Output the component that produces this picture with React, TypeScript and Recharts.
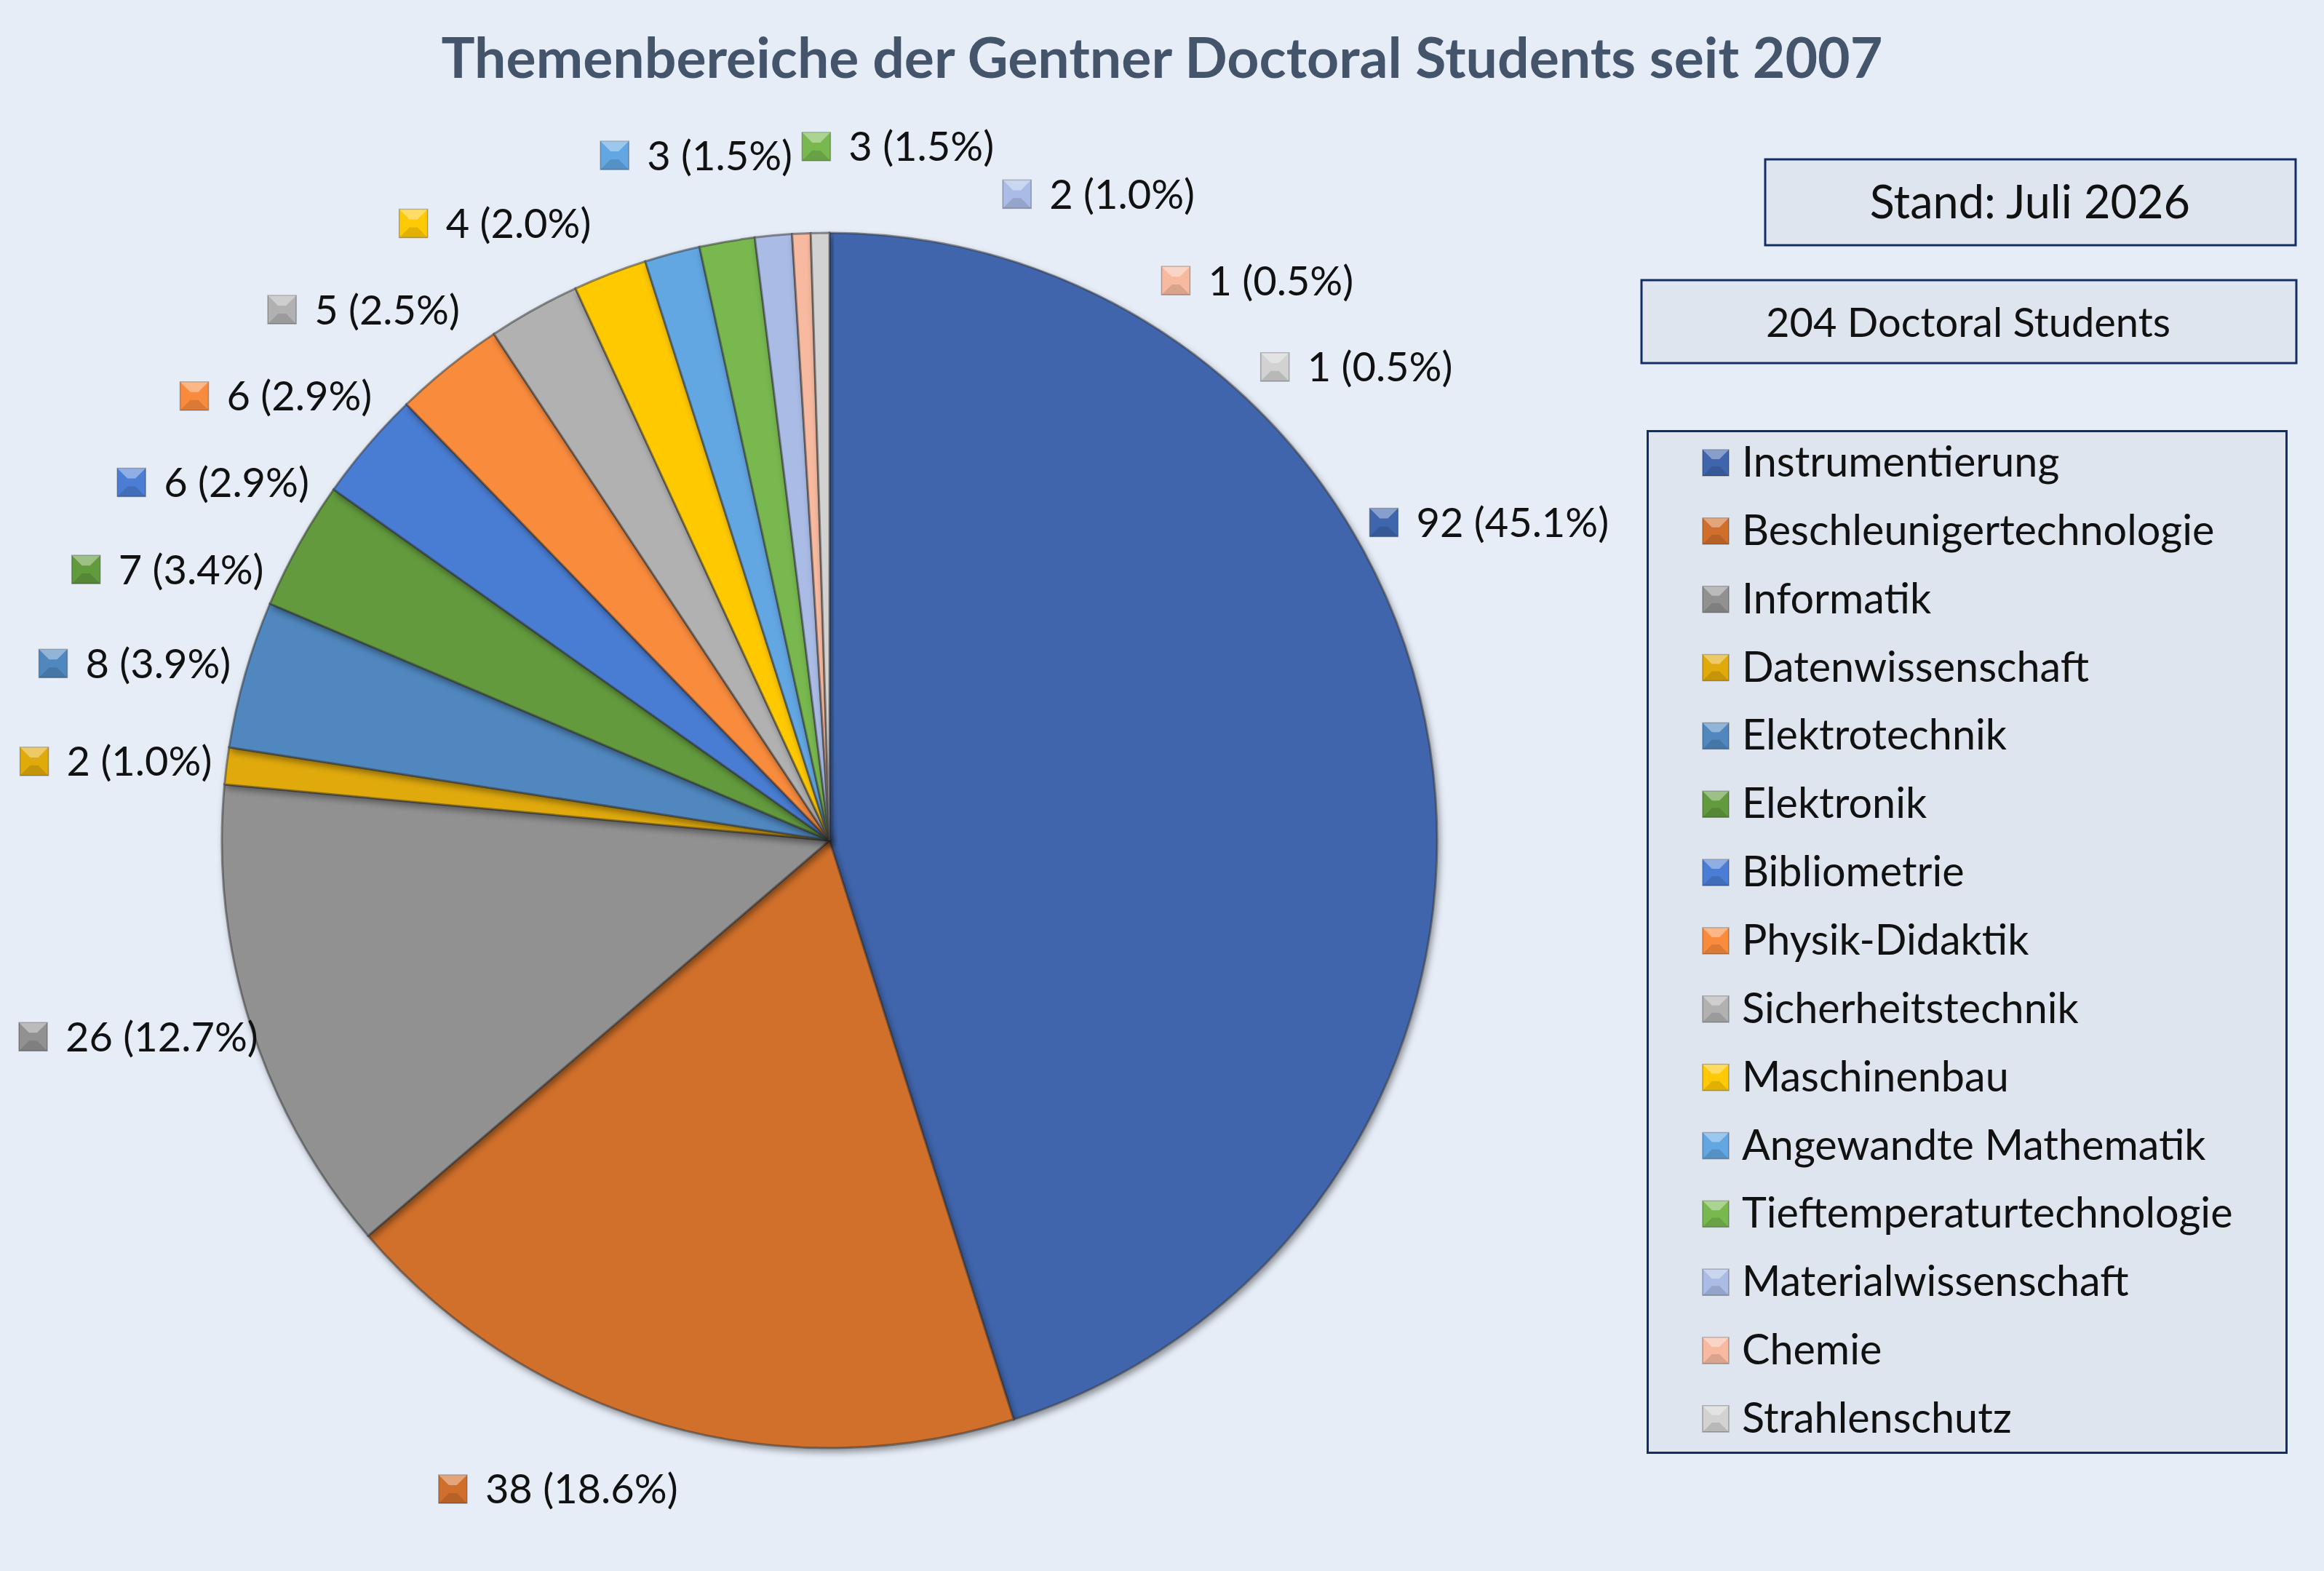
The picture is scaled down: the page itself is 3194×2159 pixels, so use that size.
import { PieChart, Pie, Cell, Legend } from 'recharts';

// Themenbereiche, Anzahl Doctoral Students, Farben (Reihenfolge = Excel-Reihenfolge)
const categories = [
    'Instrumentierung',
    'Beschleunigertechnologie',
    'Informatik',
    'Datenwissenschaft',
    'Elektrotechnik',
    'Elektronik',
    'Bibliometrie',
    'Physik-Didaktik',
    'Sicherheitstechnik',
    'Maschinenbau',
    'Angewandte Mathematik',
    'Tieftemperaturtechnologie',
    'Materialwissenschaft',
    'Chemie',
    'Strahlenschutz',
];
const students = [92, 38, 26, 2, 8, 7, 6, 6, 5, 4, 3, 3, 2, 1, 1];
const sliceColors = [
    '#3F65AC', '#D06F2C', '#919191', '#E0AA0B', '#5087BE',
    '#629A3E', '#4A7DD3', '#F98B3D', '#B1B1B1', '#FFC905',
    '#62A6E2', '#78B84F', '#AABCE6', '#F7BAA0', '#D2D2D2',
];

const chartTitle = 'Themenbereiche der Gentner Doctoral Students seit 2007';
const standText = 'Stand: Juli 2026';

// layout
const W = 3194;
const H = 2159;
const CX = 1140;
const CY = 1155;
const R = 835;
const FONT = 'Lato, "Noto Sans", sans-serif';
const LABEL_FS = 56;
const LEGEND_FS = 57.5;
const MARK = 39;
const MARK_GAP = 25;
const LABEL_H = 56;
const PAD_X = 12;
const PAD_Y = 62;
const BOUNDS = { left: 26, right: 2212, top: 140, bottom: 2075 };
const BG = '#E6EDF7';
const BOX_FILL = '#DEE5EE';
const BOX_STROKE = '#132E64';
const LEG = { x: 2263, y: 591, w: 881, h: 1407, first: 45, step: 93.85 };

const data = categories.map((name, i) => ({ name, value: students[i] }));
const total = students.reduce((s, v) => s + v, 0);
const pct = (v: number) => `${v} (${((v / total) * 100).toFixed(1)}%)`;

if (typeof document !== 'undefined') document.body.style.margin = '0';

let ctx: CanvasRenderingContext2D | null = null;
function textWidth(text: string, font: string) {
    if (!ctx) ctx = document.createElement('canvas').getContext('2d');
    if (!ctx) return text.length * LABEL_FS * 0.5;
    ctx.font = font;
    return ctx.measureText(text).width;
}

type Box = { x0: number; x1: number; y0: number; y1: number };

// Excel-like "best fit": outside the slice, slide along the rim when out of bounds, push apart when overlapping
function placeLabels() {
    const n = students.length;
    const w = students.map(v => MARK + MARK_GAP + textWidth(pct(v), `${LABEL_FS}px Lato`));
    const theta: number[] = [];
    let acc = 0;
    for (const v of students) {
        theta.push(((acc + v / 2) / total) * 360);
        acc += v;
    }
    const rad = (d: number) => (d * Math.PI) / 180;
    const box = (i: number, t: number): Box => {
        const ux = Math.sin(rad(t));
        const uy = -Math.cos(rad(t));
        const gap = 20 + 75 * uy * uy; // labels sit further out above/below the pie
        let x = CX + (R + gap) * ux + (ux * w[i]) / 2;
        const y = CY + (R + gap) * uy + (uy * LABEL_H) / 2;
        x = Math.max(x, BOUNDS.left + w[i] / 2);
        return { x0: x - w[i] / 2, x1: x + w[i] / 2, y0: y - LABEL_H / 2, y1: y + LABEL_H / 2 };
    };
    const outside = (b: Box) =>
        Math.max(0, b.x1 - BOUNDS.right) + Math.max(0, b.y1 - BOUNDS.bottom) + Math.max(0, BOUNDS.top - b.y0);
    const hit = (a: Box, b: Box) =>
        a.x0 < b.x1 + PAD_X && b.x0 < a.x1 + PAD_X && a.y0 < b.y1 + PAD_Y && b.y0 < a.y1 + PAD_Y;
    const back = 0.08;
    const fwd = 0.1;
    for (let it = 0; it < 8000; it++) {
        let moved = false;
        for (let i = 0; i < n; i++) {
            const j = (i + 1) % n;
            if (hit(box(i, theta[i]), box(j, theta[j]))) {
                theta[i] -= back;
                theta[j] += fwd;
                moved = true;
            }
        }
        for (let i = 0; i < n; i++) {
            if (outside(box(i, theta[i])) > 0) {
                const dir = outside(box(i, theta[i] - 0.1)) < outside(box(i, theta[i] + 0.1)) ? -1 : 1;
                theta[i] += dir * 0.2;
                moved = true;
            }
        }
        if (!moved) break;
    }
    return students.map((_, i) => {
        const b = box(i, theta[i]);
        return { dx: b.x0 - CX, dy: (b.y0 + b.y1) / 2 - CY };
    });
}

const labelPos = placeLabels();

function Bevel({ x, y, s, color }: { x: number; y: number; s: number; color: string }) {
    const b = s * 0.36;
    return (
        <g>
            <rect x={x} y={y} width={s} height={s} fill={color} stroke="rgba(0,0,0,0.28)" strokeWidth={1.5} />
            <polygon points={`${x},${y} ${x + s},${y} ${x + s - b},${y + b} ${x + b},${y + b}`} fill="#fff" fillOpacity={0.38} />
            <polygon points={`${x},${y + s} ${x + s},${y + s} ${x + s - b},${y + s - b} ${x + b},${y + s - b}`} fill="#000" fillOpacity={0.12} />
        </g>
    );
}

const renderLabel = (props: any) => {
    const idx = typeof props.index === 'number' ? props.index : categories.indexOf(props.name);
    const p = labelPos[idx];
    const x = props.cx + p.dx;
    const yc = props.cy + p.dy;
    return (
        <g key={`label-${idx}`}>
            <Bevel x={x} y={yc - MARK / 2} s={MARK} color={sliceColors[idx]} />
            <text x={x + MARK + MARK_GAP} y={yc + 20} fontFamily={FONT} fontSize={LABEL_FS} fill="#111">
                {pct(students[idx])}
            </text>
        </g>
    );
};

// legend keeps the series order (Recharts sorts its payload by name)
const renderLegend = (props: any) => {
    const items = (props.payload || []) as any[];
    const colorOf = (name: string, i: number) => items.find(it => it.value === name)?.color || sliceColors[i];
    return (
        <svg width={LEG.w} height={LEG.h} style={{ display: 'block' }}>
            <rect x={1.5} y={1.5} width={LEG.w - 3} height={LEG.h - 3} fill={BOX_FILL} stroke={BOX_STROKE} strokeWidth={3} />
            {categories.map((c, i) => {
                const yc = LEG.first + i * LEG.step;
                return (
                    <g key={c}>
                        <Bevel x={77} y={yc - 18} s={36} color={colorOf(c, i)} />
                        <text x={131} y={yc + 19} fontFamily={FONT} fontSize={LEGEND_FS} fill="#111">
                            {c}
                        </text>
                    </g>
                );
            })}
        </svg>
    );
};

export default function App() {
    return (
        <div style={{ position: 'absolute', left: 0, top: 0, width: W, height: H, background: BG, overflow: 'hidden' }}>
            <svg width={0} height={0} style={{ position: 'absolute' }}>
                <defs>
                    <filter id="sliceShadow" x="-20%" y="-20%" width="140%" height="140%">
                        <feDropShadow dx="3" dy="5" stdDeviation="5" floodColor="#000" floodOpacity="0.4" />
                    </filter>
                </defs>
            </svg>
            <style>{`.recharts-sector { filter: url(#sliceShadow); }`}</style>
            <PieChart width={W} height={H} margin={{ top: 0, right: 0, bottom: 0, left: 0 }}>
                <Pie
                    data={data}
                    dataKey="value"
                    nameKey="name"
                    cx={CX}
                    cy={CY}
                    outerRadius={R}
                    startAngle={90}
                    endAngle={-270}
                    stroke="rgba(50,50,50,0.5)"
                    strokeWidth={3}
                    label={renderLabel}
                    labelLine={false}
                    isAnimationActive={false}
                >
                    {data.map((d, i) => (
                        <Cell key={d.name} fill={sliceColors[i]} />
                    ))}
                </Pie>
                <Legend
                    layout="vertical"
                    content={renderLegend}
                    wrapperStyle={{ left: LEG.x, top: LEG.y, width: LEG.w, height: LEG.h }}
                />
            </PieChart>
            <svg width={W} height={H} style={{ position: 'absolute', left: 0, top: 0, pointerEvents: 'none' }}>
                <text x={1597} y={107} textAnchor="middle" fontFamily={FONT} fontWeight={700} fontSize={77} fill="#44546A">
                    {chartTitle}
                </text>
                <rect x={2426} y={219} width={729} height={118} fill={BOX_FILL} stroke={BOX_STROKE} strokeWidth={3} />
                <text x={2790} y={300} textAnchor="middle" fontFamily={FONT} fontSize={63} fill="#111">
                    {standText}
                </text>
                <rect x={2256} y={385} width={900} height={114} fill={BOX_FILL} stroke={BOX_STROKE} strokeWidth={3} />
                <text x={2705} y={463} textAnchor="middle" fontFamily={FONT} fontSize={56} fill="#111">
                    {`${total} Doctoral Students`}
                </text>
            </svg>
        </div>
    );
}
